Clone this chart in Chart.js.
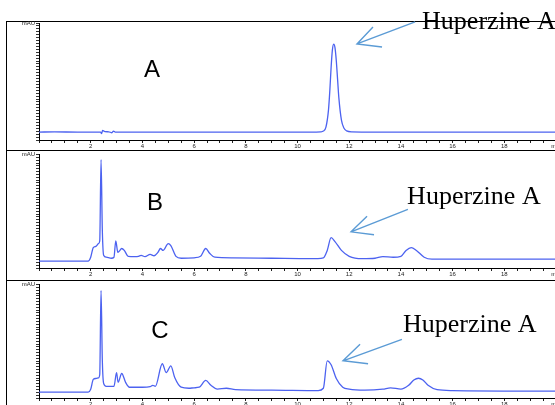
<!DOCTYPE html>
<html>
<head>
<meta charset="utf-8">
<script src="https://cdn.jsdelivr.net/npm/chart.js@4.4.0/dist/chart.umd.min.js"></script>
<style>
body { margin: 0; width: 555px; height: 405px; overflow: hidden; position: relative; background: #fff; }
canvas { position: absolute; left: 0; }
.frame { position: absolute; left: 6px; width: 600px; border-left: 1px solid #000; border-top: 1px solid #000; }
</style>
</head>
<body>
<div class="frame" style="top:21px;height:129px"></div>
<div class="frame" style="top:150px;height:130px"></div>
<div class="frame" style="top:280px;height:200px"></div>
<canvas id="chartA" width="570" height="150" style="top:0"></canvas>
<canvas id="chartB" width="570" height="130" style="top:150px"></canvas>
<canvas id="chartC" width="570" height="130" style="top:280px"></canvas>
<script>
// retention time (min) and absorbance (relative mAU)
const timesA  = [0, 0.6, 1.5, 2.38, 2.42, 2.46, 2.55, 2.7, 2.82, 2.88, 2.95, 3.1, 5, 8, 10.5,
                 10.9, 11.0, 11.1, 11.2, 11.25, 11.3, 11.35, 11.4, 11.45, 11.5, 11.55, 11.6, 11.7, 11.8, 11.9, 12.1, 13, 16, 20]
const valuesA = [6.8, 6.9, 6.8, 6.8, 5.4, 8.2, 7.1, 7.0, 6.2, 7.6, 6.8, 6.8, 6.8, 6.8, 6.8,
                 7.0, 7.6, 11, 26, 42, 62, 77, 82, 79, 68, 52, 36, 17, 10, 7.8, 7.0, 6.8, 6.8, 6.8]

const timesB  = [0, 1.9, 2.0, 2.1, 2.2, 2.3, 2.35, 2.4, 2.45, 2.5, 2.6, 2.8, 2.9, 2.97, 3.05, 3.1, 3.2, 3.3, 3.45,
                 3.7, 3.85, 3.95, 4.1, 4.3, 4.45, 4.6, 4.7, 4.8, 5.0, 5.1, 5.3, 5.5, 6.0, 6.25, 6.45, 6.6, 6.8,
                 7.5, 9.0, 10.5, 11.0, 11.15, 11.3, 11.45, 11.7, 12.0, 12.5, 13.0, 13.3, 13.7, 14.0, 14.2, 14.4,
                 14.6, 14.9, 15.2, 17, 20]
const valuesB = [6.0, 6.0, 9.5, 18, 19, 21.5, 24, 95.5, 33, 11.2, 9.5, 8.6, 9.5, 24, 13.8, 14.7, 17.2, 15.5, 10.3,
                 10, 10.3, 11.2, 10, 12, 10.8, 13.8, 17.2, 15.5, 21.5, 19.8, 10.3, 8.6, 9, 10.3, 17.2, 13, 9.5,
                 9, 8.6, 8.2, 9, 15.5, 26.7, 23.3, 15.5, 10.3, 8.2, 8.6, 10, 9.5, 10.3, 15.5, 18,
                 15.5, 9.5, 7.8, 7.8, 7.8]

const timesC  = [0, 1.9, 2.0, 2.1, 2.2, 2.3, 2.35, 2.4, 2.45, 2.5, 2.6, 2.9, 3.0, 3.06, 3.2, 3.35, 3.5, 4.0,
                 4.3, 4.4, 4.5, 4.77, 4.92, 5.1, 5.25, 5.5, 5.8, 6.0, 6.2, 6.45, 6.65, 6.9, 7.25, 7.6, 9.0,
                 10.8, 11.0, 11.15, 11.3, 11.5, 11.75, 12.0, 12.6, 13.3, 13.6, 14.0, 14.3, 14.5, 14.68, 14.85, 15.05,
                 15.4, 16, 20]
const valuesC = [5.2, 5.2, 7.8, 16.4, 17.2, 17.7, 20.7, 94.8, 32.8, 12.9, 10.3, 10.3, 22.4, 13.8, 21.6, 13.8, 9.5, 9.5,
                 10, 11.2, 10.3, 30.2, 22.4, 28.4, 18, 9.5, 8.6, 9, 9.5, 15.5, 11.2, 7.8, 8.6, 7.3, 6.9,
                 6.5, 8.6, 32.8, 29.3, 17.2, 9.5, 7.8, 6.9, 7.8, 9, 7.8, 11.2, 15.8, 17.4, 15.9, 11.2,
                 7.3, 6.5, 6]

const xTickLabels = [2, 4, 6, 8, 10, 12, 14, 16, 18]
const compoundName = 'Huperzine A'

const marksPlugin = {
    id: 'marks',
    afterDatasetsDraw(chart, args, opts) {
        const ctx = chart.ctx
        const xs = chart.scales.x
        const ys = chart.scales.y
        const px = p => [xs.getPixelForValue(p[0]), ys.getPixelForValue(p[1])]
        ctx.save()
        ctx.fillStyle = '#000'
        ctx.font = '24px "Liberation Sans", Arial, sans-serif'
        ctx.textAlign = 'center'
        ctx.textBaseline = 'middle'
        const [lx, ly] = px(opts.letterAt)
        ctx.fillText(opts.letter, lx, ly)
        ctx.font = '26px "Liberation Serif", "Times New Roman", serif'
        ctx.textAlign = 'left'
        ctx.textBaseline = 'alphabetic'
        const [nx, ny] = px(opts.nameAt)
        ctx.fillText(compoundName, nx, ny)
        const [tail, tip, head1, head2] = opts.arrow.map(px)
        ctx.strokeStyle = '#5b9bd5'
        ctx.lineWidth = 1.4
        ctx.beginPath()
        ctx.moveTo(tail[0], tail[1])
        ctx.lineTo(tip[0], tip[1])
        ctx.moveTo(head1[0], head1[1])
        ctx.lineTo(tip[0], tip[1])
        ctx.lineTo(head2[0], head2[1])
        ctx.stroke()
        ctx.restore()
    }
}

function makePanel(id, times, values, padTop, axisHeight, marks){
    const ctx = document.getElementById(id).getContext('2d')
    return new Chart(ctx, {
        type: 'line',
        data: {
            datasets: [{
                data: times.map((t, i) => ({x: t, y: values[i]})),
                borderColor: '#4c62f0',
                borderWidth: 1.3,
                pointRadius: 0,
                cubicInterpolationMode: 'monotone',
                fill: false
            }]
        },
        options: {
            responsive: false,
            animation: false,
            devicePixelRatio: 1,
            layout: { padding: { top: padTop, left: 0, right: 14, bottom: 0 } },
            scales: {
                x: {
                    type: 'linear',
                    min: 0,
                    max: 20,
                    afterFit: function(scale){ scale.height = axisHeight },
                    border: { color: '#000', width: 1 },
                    grid: { drawOnChartArea: false, tickLength: 3, color: '#222' },
                    ticks: {
                        stepSize: 0.5,
                        autoSkip: false,
                        maxRotation: 0,
                        padding: 0,
                        color: '#222',
                        font: { size: 6, family: 'Arial, "Liberation Sans", sans-serif' },
                        callback: function(value){
                            if (value === 20) return 'min'
                            return xTickLabels.includes(value) ? String(value) : ''
                        }
                    }
                },
                y: {
                    min: 0,
                    max: 100,
                    afterFit: function(scale){ scale.width = 39 },
                    border: { color: '#000', width: 1 },
                    grid: { drawOnChartArea: false, tickLength: 3, color: '#333' },
                    ticks: {
                        stepSize: 2.5,
                        autoSkip: false,
                        padding: 1,
                        color: '#222',
                        font: { size: 6, family: 'Arial, "Liberation Sans", sans-serif' },
                        callback: function(value){ return value === 100 ? 'mAU' : '' }
                    }
                }
            },
            plugins: {
                legend: { display: false },
                tooltip: { enabled: false },
                marks: marks
            }
        },
        plugins: [marksPlugin]
    })
}

makePanel('chartA', timesA, valuesA, 23, 10, {
    letter: 'A', letterAt: [4.37, 59.8],
    nameAt: [14.82, 94.6],
    arrow: [[14.55, 100.9], [12.30, 82.1], [12.92, 96.6], [13.27, 79.5]]
})
makePanel('chartB', timesB, valuesB, 2, 12, {
    letter: 'B', letterAt: [4.49, 56.9],
    nameAt: [14.24, 56],
    arrow: [[14.27, 51.7], [12.07, 31.9], [12.69, 45.7], [12.96, 29.3]]
})
makePanel('chartC', timesC, valuesC, 2, 12, {
    letter: 'C', letterAt: [4.68, 58.6],
    nameAt: [14.08, 57.8],
    arrow: [[14.04, 51.7], [11.76, 32.8], [12.42, 47.4], [12.73, 30.2]]
})
</script>
</body>
</html>
